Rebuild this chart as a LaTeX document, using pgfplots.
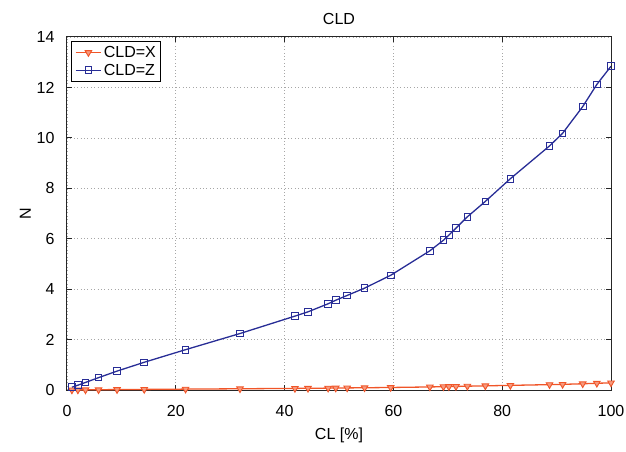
\documentclass[border=0pt]{standalone}
\usepackage{fontspec}
\setmainfont{Liberation Sans}
\usepackage{pgfplots}
\pgfplotsset{compat=1.18}
\definecolor{cx}{RGB}{240,85,40}
\definecolor{cz}{RGB}{40,45,150}
\begin{document}
\begin{tikzpicture}
\path[use as bounding box] (-67pt,-62pt) rectangle (559pt,390pt);
\begin{axis}[
  scale only axis, width=544pt, height=353pt,
  xmin=0, xmax=100, ymin=0, ymax=14,
  xtick={0,20,...,100}, ytick={0,2,...,14},
  tick align=inside, major tick length=5pt,
  grid=major, grid style={gray!70, line width=0.7pt, dash pattern=on 0.8pt off 2.6pt},
  axis line style={black!85, line width=1pt},
  every tick/.style={black!85, line width=1pt},
  font=\fontsize{16}{19}\selectfont,
  /pgf/number format/assume math mode=true,
  xticklabel style={yshift=-12pt},
  yticklabel style={xshift=-9pt},
  title={CLD}, title style={yshift=3pt},
  xlabel={CL [\%]}, ylabel={N},
  xlabel style={yshift=-4pt}, ylabel style={yshift=-1pt},
  legend image code/.code={\draw[mark repeat=2,mark phase=2] plot coordinates {(0cm,0cm) (0.45cm,0cm) (0.9cm,0cm)};},
  legend style={at={(0,1)}, anchor=north west, xshift=4.5pt, yshift=-3.7pt,
    draw=black, line width=1pt,
    font=\fontsize{16}{19}\selectfont, row sep=1pt, inner sep=3pt,
    cells={anchor=west}},
  legend image post style={line width=1.2pt},
  legend cell align=left,
]
\addplot[cx, line width=1.3pt, mark=triangle*, mark size=3.8pt, mark options={rotate=180, fill=cx!60, draw=cx, line width=0.9pt}] coordinates {
(0.9,0.003) (2.0,0.004) (3.4,0.007) (5.8,0.011) (9.2,0.017) (14.2,0.024)
(21.8,0.035) (31.8,0.049) (41.9,0.064) (44.3,0.068) (48.0,0.075) (49.4,0.078)
(51.5,0.083) (54.7,0.089) (59.5,0.100) (66.7,0.121) (69.2,0.131) (70.2,0.135)
(71.5,0.141) (73.6,0.151) (76.9,0.165) (81.5,0.184) (88.7,0.213) (91.1,0.224)
(94.8,0.247) (97.4,0.267) (100,0.283)
};
\addlegendentry{CLD=X}
\addplot[cz, line width=1.3pt, mark=square, mark size=3.3pt, mark options={fill=cz!12, draw=cz, line width=0.9pt}] coordinates {
(0.9,0.11) (2.0,0.19) (3.4,0.30) (5.8,0.49) (9.2,0.75) (14.2,1.10)
(21.8,1.60) (31.8,2.24) (41.9,2.93) (44.3,3.10) (48.0,3.42) (49.4,3.56)
(51.5,3.75) (54.7,4.04) (59.5,4.55) (66.7,5.52) (69.2,5.94) (70.2,6.14)
(71.5,6.42) (73.6,6.87) (76.9,7.48) (81.5,8.38) (88.7,9.68) (91.1,10.18)
(94.8,11.24) (97.4,12.12) (100,12.84)
};
\addlegendentry{CLD=Z}
\end{axis}
\end{tikzpicture}
\end{document}
